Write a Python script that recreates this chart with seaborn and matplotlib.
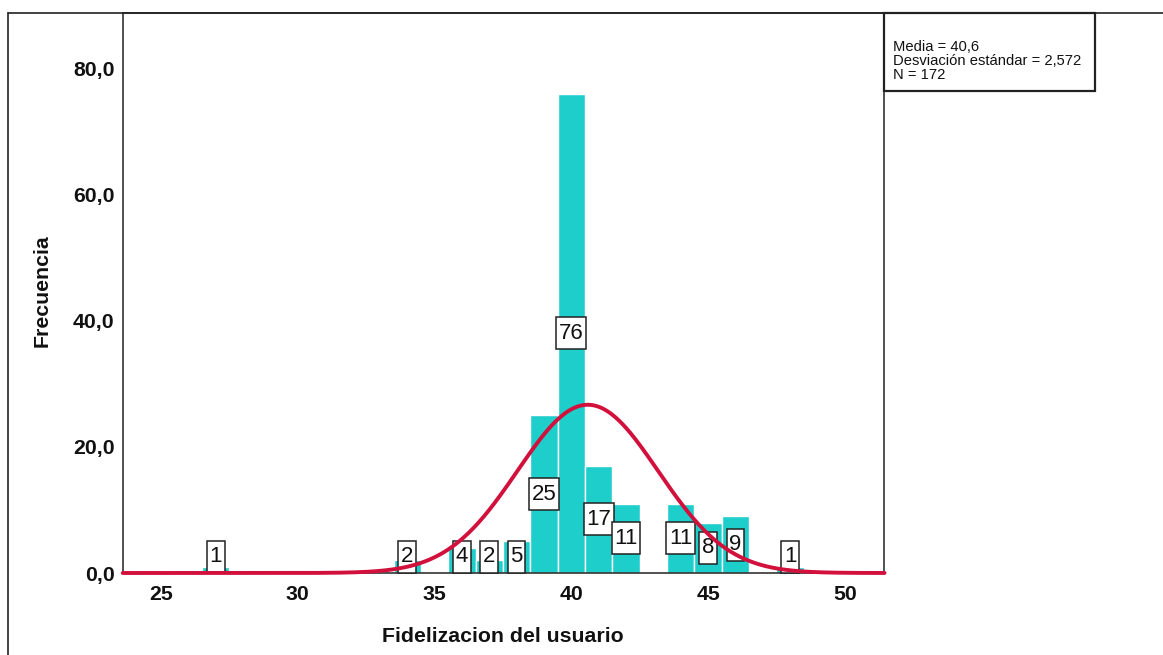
import numpy as np
import pandas as pd
import matplotlib
matplotlib.use("Agg")
import matplotlib.pyplot as plt
import seaborn as sns
from matplotlib.lines import Line2D
from matplotlib.patches import Rectangle
from matplotlib.path import Path
from matplotlib.ticker import FuncFormatter, FixedLocator

# ---- data ----
scores = [27, 34, 36, 37, 38, 39, 40, 41, 42, 44, 45, 46, 48]
counts = [1, 2, 4, 2, 5, 25, 76, 17, 11, 11, 8, 9, 1]
mean_val = 40.6
sd_val = 2.572
n_total = 172
x_ticks = [25, 30, 35, 40, 45, 50]
y_ticks = [0, 20, 40, 60, 80]
stats_lines = ["Media = 40,6", "Desviación estándar = 2,572", "N = 172"]
x_label = "Fidelizacion del usuario"
y_label = "Frecuencia"

sns.set_style("white")
plt.rcParams['font.family'] = ['Liberation Sans', 'DejaVu Sans']

W, H = 1163, 655
fig = plt.figure(figsize=(W / 100, H / 100), dpi=100)
ax = fig.add_axes([123 / W, 1 - 573 / H, (884 - 123) / W, (573 - 13) / H])

df = pd.DataFrame({"score": scores, "count": counts})
sns.histplot(data=df, x="score", weights="count", discrete=True,
             color="#1ECECB", alpha=1, edgecolor="white", linewidth=1.0,
             ax=ax, zorder=1)

# normal curve from the reported mean / sd
xs = np.linspace(23.6, 51.45, 600)
ys = n_total * 1.0 * np.exp(-0.5 * ((xs - mean_val) / sd_val) ** 2) / (sd_val * np.sqrt(2 * np.pi))
sns.lineplot(x=xs, y=ys, color="#D2103C", linewidth=2.8, ax=ax, zorder=5)
for ln in ax.lines:
    ln.set_clip_on(False)


def tall_box(x0, y0, width, height, mutation_size):
    padx = 0.12 * mutation_size
    pady = 0.25 * mutation_size
    x0 -= padx
    y0 -= pady
    x1 = x0 + width + 2 * padx
    y1 = y0 + height + 2 * pady
    return Path([(x0, y0), (x1, y0), (x1, y1), (x0, y1), (x0, y0)], closed=True)


# count labels
for s, c in zip(scores, counts):
    ax.text(s, max(c / 2, 2.6), str(c), ha="center", va="center",
            fontsize=16, color="#111111", zorder=4,
            bbox=dict(boxstyle=tall_box, fc="white", ec="#222222", lw=1.1))

ax.set_xlim(23.61, 51.43)
ax.set_ylim(0, 88.8)
ax.xaxis.set_major_locator(FixedLocator(x_ticks))
ax.yaxis.set_major_locator(FixedLocator(y_ticks))
ax.yaxis.set_major_formatter(FuncFormatter(lambda v, p: f"{v:.1f}".replace(".", ",")))
ax.tick_params(axis="both", length=0, labelsize=15.3)
ax.tick_params(axis="x", pad=9)
ax.tick_params(axis="y", pad=6)
for t in ax.get_xticklabels() + ax.get_yticklabels():
    t.set_fontweight("bold")
    t.set_color("#111111")

ax.set_xlabel(x_label, fontsize=15.3, fontweight="bold", color="#111111")
ax.set_ylabel(y_label, fontsize=15.3, fontweight="bold", color="#111111")
ax.xaxis.label.set_va("center")
ax.xaxis.set_label_coords(0.4993, -0.1135)
ax.yaxis.label.set_va("center")
ax.yaxis.set_label_coords(-0.1064, 0.505)

for sp in ax.spines.values():
    sp.set_color("#333333")
    sp.set_linewidth(1.2)
    sp.set_visible(True)

# outer frame lines
fig.add_artist(Line2D([8 / W, 1], [1 - 13 / H] * 2, transform=fig.transFigure,
                      color="#222222", lw=1.2))
fig.add_artist(Line2D([8 / W] * 2, [0, 1 - 13 / H], transform=fig.transFigure,
                      color="#222222", lw=1.2))

# stats box
fig.add_artist(Rectangle((884 / W, 1 - 91 / H), (1095 - 884) / W, 78 / H,
                         transform=fig.transFigure, facecolor="white",
                         edgecolor="#222222", lw=1.6))
fig.text(893 / W, 1 - 61 / H, "\n".join(stats_lines), fontsize=10.6,
         ha="left", va="center", linespacing=0.98, color="#111111")

fig.savefig("out.png", dpi=100)
